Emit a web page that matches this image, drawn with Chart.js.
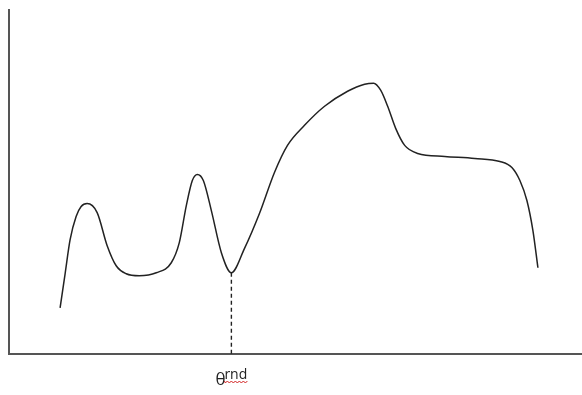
<!DOCTYPE html>
<html>
<head>
<meta charset="utf-8">
<script src="https://cdn.jsdelivr.net/npm/chart.js@4/dist/chart.umd.min.js"></script>
<style>
    html, body { margin: 0; padding: 0; background: #fff; }
    #wrap { width: 582px; height: 395px; }
</style>
</head>
<body>
<div id="wrap"><canvas id="chart" width="582" height="395"></canvas></div>
<script>
// curve (x along the axis, y height above it)
const curveX = [51, 56, 61, 67, 72, 78, 88, 98, 107, 117, 130, 147, 162, 170, 177, 183, 188, 194, 202, 212, 222,
    235, 250, 265, 278, 295, 315, 338, 355, 364, 371, 378, 386, 395, 408, 435, 465, 490, 502, 510, 517, 523, 528];
const curveY = [46, 80, 114, 137, 147, 150, 141, 108, 88, 80, 78, 81, 91, 111, 148, 173, 179, 173, 143, 101, 81,
    105, 140, 181, 208, 228, 247, 262, 269, 270, 263, 247, 225, 208, 200, 197, 195, 192, 186, 173, 153, 123, 86];
// the marked minimum
const markX = 222;
const markY = 81;
const markLabel = 'θ';
const markSub = 'rnd';

let curve = [];
for (let i = 0; i < curveX.length; i++) {
    curve.push({ x: curveX[i], y: curveY[i] });
}

// draws the θrnd label under the dashed line
const labelPlugin = {
    id: 'markLabel',
    afterDraw(chart) {
        let ctx = chart.ctx;
        let px = chart.scales.x.getPixelForValue(markX);
        ctx.save();
        ctx.fillStyle = '#222';
        ctx.textBaseline = 'alphabetic';
        ctx.font = '17px "Open Sans"';
        ctx.fillText(markLabel, px - 16, 385);
        ctx.font = '14px "Open Sans"';
        ctx.fillText(markSub, px - 7, 379);
        // red squiggle like a spell checker
        ctx.strokeStyle = '#d02020';
        ctx.lineWidth = 1;
        ctx.beginPath();
        let sx = px - 7;
        ctx.moveTo(sx, 381);
        for (let k = 0; k < 12; k++) {
            ctx.lineTo(sx + k * 2 + 1, k % 2 === 0 ? 383 : 381);
        }
        ctx.stroke();
        ctx.restore();
    }
};

var ctx = document.getElementById('chart').getContext('2d');
var mychart = new Chart(ctx, {
    type: 'line',
    data: {
        datasets: [{
            data: curve,
            borderColor: '#222',
            borderWidth: 1.5,
            pointRadius: 0,
            cubicInterpolationMode: 'monotone',
            fill: false
        }, {
            data: [{ x: markX, y: markY }, { x: markX, y: 0 }],
            borderColor: '#222',
            borderWidth: 1.4,
            borderDash: [4, 3],
            pointRadius: 0,
            fill: false
        }]
    },
    options: {
        responsive: false,
        animation: false,
        layout: { padding: { left: 9, top: 10, right: 0, bottom: 41 } },
        plugins: { legend: { display: false }, tooltip: { enabled: false } },
        scales: {
            x: {
                type: 'linear',
                min: 0,
                max: 572,
                grid: { display: false, drawTicks: false },
                ticks: { display: false },
                border: { display: true, color: '#555', width: 2 }
            },
            y: {
                min: 0,
                max: 343,
                grid: { display: false, drawTicks: false },
                ticks: { display: false },
                border: { display: true, color: '#555', width: 2 }
            }
        }
    },
    plugins: [labelPlugin]
});
</script>
</body>
</html>
